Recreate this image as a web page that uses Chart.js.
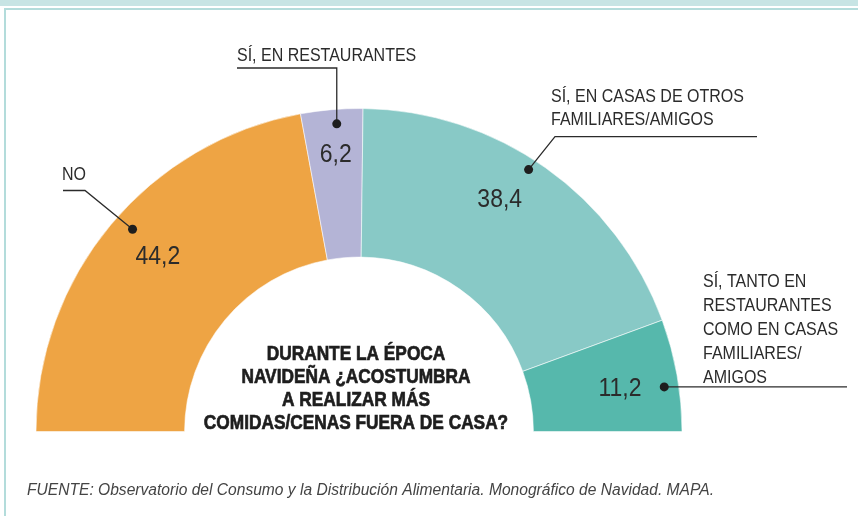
<!DOCTYPE html>
<html>
<head>
<meta charset="utf-8">
<script src="https://cdn.jsdelivr.net/npm/chart.js@4.4.1/dist/chart.umd.min.js"></script>
<style>
    html, body { margin: 0; padding: 0; background: #fff; }
    #wrap { position: relative; width: 858px; height: 516px; overflow: hidden; }
    .band { position: absolute; left: 0; top: 0; width: 858px; height: 6px; background: #c7e4e4; }
    .hline { position: absolute; left: 4px; top: 8px; right: 0; height: 2px; background: #b3dcdb; }
    .vline { position: absolute; left: 4px; top: 8px; width: 2px; bottom: 0; background: #b3dcdb; }
    canvas { position: absolute; left: 0; top: 0; }
</style>
</head>
<body>
<div id="wrap">
    <div class="band"></div>
    <div class="hline"></div>
    <div class="vline"></div>
    <canvas id="chart" width="858" height="516"></canvas>
</div>
<script>
// data
const categories = ['NO', 'SÍ, EN RESTAURANTES', 'SÍ, EN CASAS DE OTROS FAMILIARES/AMIGOS', 'SÍ, TANTO EN RESTAURANTES COMO EN CASAS FAMILIARES/AMIGOS'];
const values = [44.2, 6.2, 38.4, 11.2];
const valueLabels = ['44,2', '6,2', '38,4', '11,2'];
const labelLines = [
    ['NO'],
    ['SÍ, EN RESTAURANTES'],
    ['SÍ, EN CASAS DE OTROS', 'FAMILIARES/AMIGOS'],
    ['SÍ, TANTO EN', 'RESTAURANTES', 'COMO EN CASAS', 'FAMILIARES/', 'AMIGOS']
];
const question = ['DURANTE LA ÉPOCA', 'NAVIDEÑA ¿ACOSTUMBRA', 'A REALIZAR MÁS', 'COMIDAS/CENAS FUERA DE CASA?'];
const source = 'FUENTE: Observatorio del Consumo y la Distribución Alimentaria. Monográfico de Navidad. MAPA.';

const colors = ['#eea444', '#b4b4d6', '#88c9c6', '#56b8ac'];
const FONT = '"Liberation Sans", Arial, sans-serif';
const INK = '#2b2b2b';

// where each annotation sits: t = fraction along the arc, r = fraction of radius
const annot = [
    { dot: [0.525, 0.94], val: [0.52, 0.83], text: [62, 179.5], leader: d => [[d[0], d[1]], [85, 190.5], [63, 190.5]] },
    { dot: [0.565, 0.955], val: [0.51, 0.867], text: [237, 60.7], leader: d => [[d[0], d[1]], [d[0], 68], [237, 68]] },
    { dot: [0.466, 0.966], val: [0.438, 0.846], text: [551, 101.7], leader: d => [[d[0], d[1]], [555, 136.7], [757, 136.7]] },
    { dot: [0.588, 0.955], val: [0.51, 0.82], text: [703, 287], leader: d => [[d[0], d[1]], [847, d[1]]] }
];

function txt(ctx, s, x, y, size, opts = {}) {
    ctx.save();
    ctx.font = `${opts.style || ''} ${opts.weight || 'normal'} ${size}px ${FONT}`;
    ctx.fillStyle = opts.color || INK;
    ctx.textAlign = opts.align || 'left';
    ctx.textBaseline = 'alphabetic';
    ctx.translate(x, y);
    ctx.scale(1, opts.sy || 1.15);
    ctx.fillText(s, 0, 0);
    if (opts.stroke) {
        ctx.strokeStyle = opts.color || INK;
        ctx.lineWidth = opts.stroke;
        ctx.strokeText(s, 0, 0);
    }
    ctx.restore();
}

const annotations = {
    id: 'annotations',
    afterDatasetsDraw(chart) {
        const ctx = chart.ctx;
        const arcs = chart.getDatasetMeta(0).data;

        arcs.forEach((arc, i) => {
            const { x, y, startAngle, endAngle, outerRadius } = arc.getProps(['x', 'y', 'startAngle', 'endAngle', 'outerRadius'], true);
            const at = ([t, r]) => {
                const a = startAngle + t * (endAngle - startAngle);
                return [x + Math.cos(a) * outerRadius * r, y + Math.sin(a) * outerRadius * r];
            };
            const a = annot[i];
            const d = at(a.dot);
            const v = at(a.val);

            // value
            txt(ctx, valueLabels[i], v[0], v[1] + 9.5, 23, { align: 'center' });

            // leader line
            const pts = a.leader(d);
            ctx.save();
            ctx.strokeStyle = INK;
            ctx.lineWidth = 1.3;
            ctx.beginPath();
            pts.forEach((p, k) => k ? ctx.lineTo(p[0], p[1]) : ctx.moveTo(p[0], p[1]));
            ctx.stroke();
            ctx.fillStyle = '#1e1e1e';
            ctx.beginPath();
            ctx.arc(d[0], d[1], 4.5, 0, Math.PI * 2);
            ctx.fill();
            ctx.restore();

            // category label
            labelLines[i].forEach((line, k) => {
                txt(ctx, line, a.text[0], a.text[1] + k * (i === 3 ? 24 : 23.3), 16);
            });
        });

        // question in the middle
        question.forEach((line, k) => {
            txt(ctx, line, 356, 360 + k * 23, 17.3, { weight: 'bold', sy: 1.18, color: '#1e1e1e', align: 'center', stroke: 0.6 });
        });

        // source
        txt(ctx, source, 27, 495, 15.6, { style: 'italic', sy: 1.05, color: '#444' });
    }
};

new Chart(document.getElementById('chart'), {
    type: 'doughnut',
    data: {
        labels: categories,
        datasets: [{
            data: values,
            backgroundColor: colors,
            borderColor: 'rgba(255,255,255,0.55)',
            borderWidth: 1
        }]
    },
    options: {
        responsive: false,
        animation: false,
        rotation: -90,
        circumference: 180,
        cutout: '54%',
        layout: { padding: { left: 35, right: 175, top: 108, bottom: 84 } },
        plugins: { legend: { display: false }, tooltip: { enabled: false } }
    },
    plugins: [annotations]
});
</script>
</body>
</html>
